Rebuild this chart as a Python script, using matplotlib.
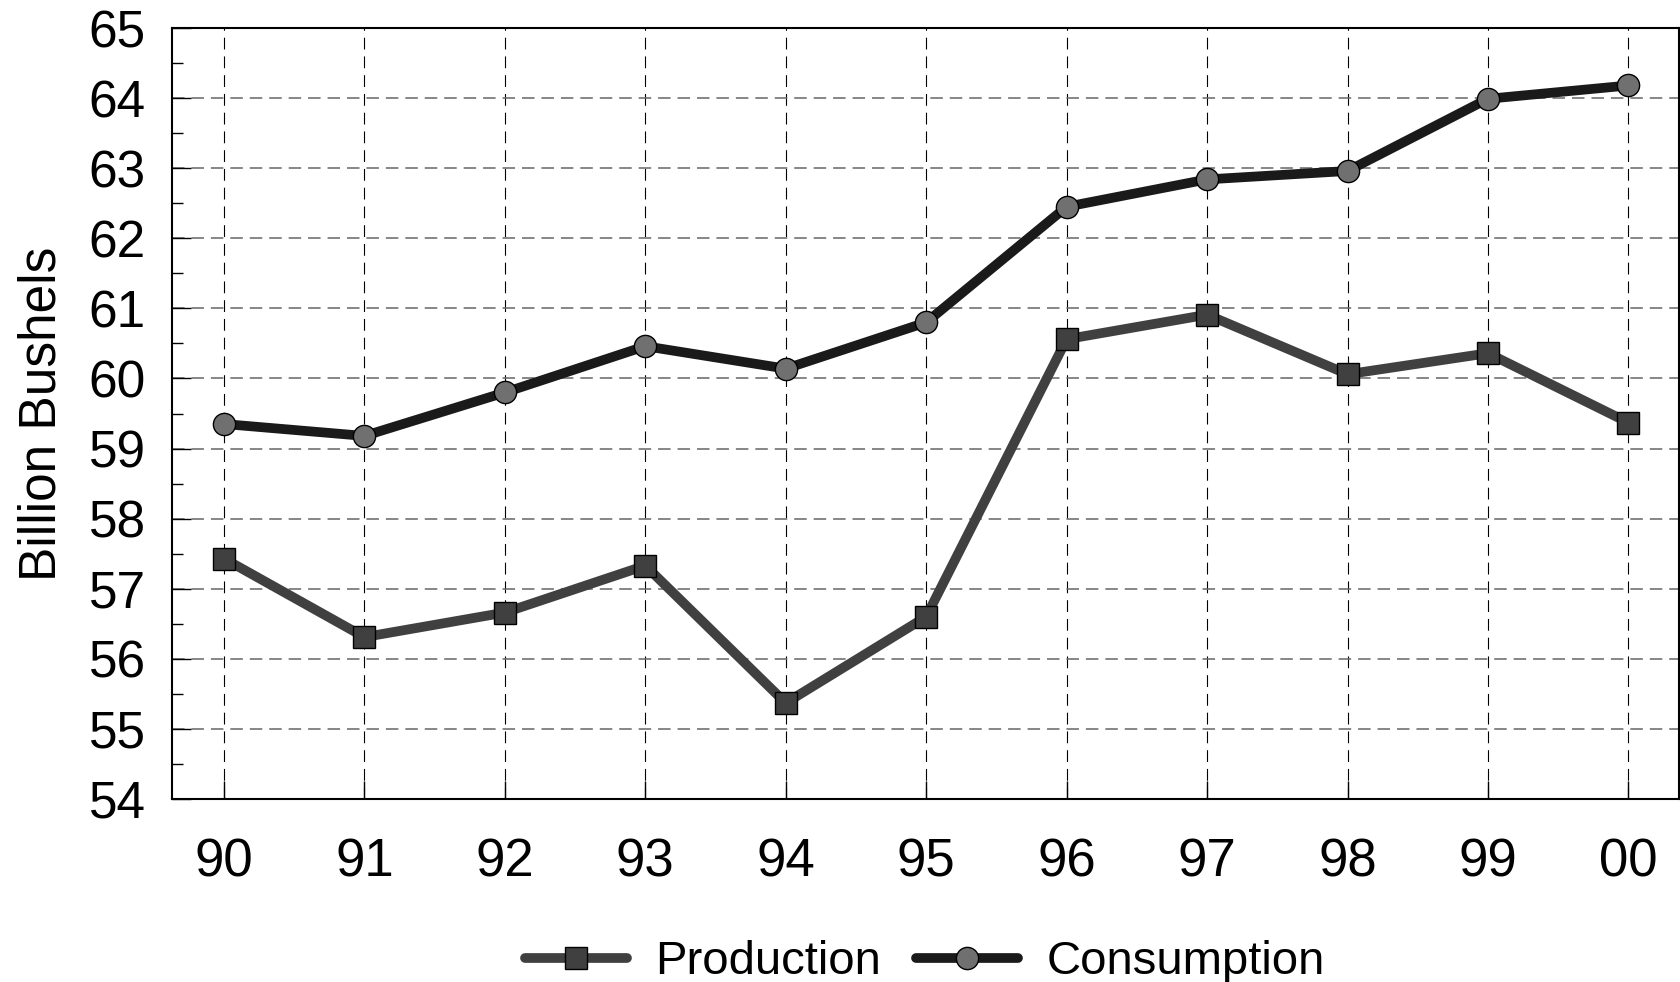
import matplotlib
matplotlib.use("Agg")
import matplotlib.pyplot as plt
from matplotlib.ticker import MultipleLocator

plt.rcParams['font.family'] = ['Liberation Sans', 'DejaVu Sans']
plt.rcParams['lines.scale_dashes'] = False

# data
years = ['90', '91', '92', '93', '94', '95', '96', '97', '98', '99', '00']
production = [57.43, 56.31, 56.66, 57.33, 55.37, 56.60, 60.56, 60.91, 60.06, 60.36, 59.37]
consumption = [59.35, 59.18, 59.80, 60.46, 60.14, 60.80, 62.45, 62.84, 62.96, 63.99, 64.18]

x = list(range(len(years)))

fig = plt.figure(figsize=(16.8, 9.82), dpi=100)
ax = fig.add_axes([172 / 1680, 1 - 799 / 982, 1507 / 1680, 771 / 982])

ax.plot(x, production, color='#404040', lw=7, marker='s', ms=16,
        mfc='#404040', mec='black', mew=1, solid_capstyle='round',
        solid_joinstyle='round', label='Production', zorder=3)
ax.plot(x, consumption, color='#1a1a1a', lw=7, marker='o', ms=16,
        mfc='#707070', mec='black', mew=1, solid_capstyle='round',
        solid_joinstyle='round', label='Consumption', zorder=4)

ax.set_xlim(-0.37, 10.36)
ax.set_ylim(54, 65)
ax.set_xticks(x)
ax.set_xticklabels(years)
ax.yaxis.set_major_locator(MultipleLocator(1))
ax.yaxis.set_minor_locator(MultipleLocator(0.5))

ax.set_axisbelow(True)
ax.grid(axis='x', color='black', lw=0.8, linestyle=(0, (8.5, 5)))
ax.grid(axis='y', color='#666666', lw=1.1, linestyle=(0, (9, 5)))

ax.tick_params(axis='both', which='major', direction='in', width=1, color='black')
ax.tick_params(axis='y', which='major', length=14, pad=19, labelsize=37)
ax.tick_params(axis='y', which='minor', direction='in', length=8, width=1)
ax.tick_params(axis='x', which='major', length=13, pad=28, labelsize=38)
ax.tick_params(axis='x', which='minor', bottom=False)

for s in ax.spines.values():
    s.set_linewidth(1.5)

ax.set_ylabel('Billion Bushels', fontsize=37)
ax.yaxis.set_label_coords(-0.070, 0.5)

fig.legend(loc='center', bbox_to_anchor=(925 / 1680, 0.020), ncol=2,
           frameon=False, fontsize=34, handlelength=2.15, handletextpad=0.6,
           columnspacing=0.75, borderaxespad=0)

fig.savefig('out.png', dpi=100)
